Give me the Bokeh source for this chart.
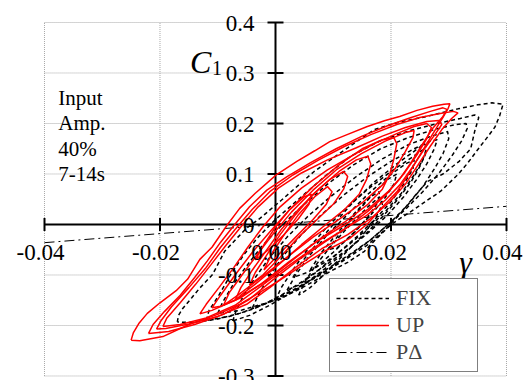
from bokeh.plotting import figure
from bokeh.models import Label, Range1d
from bokeh.embed import file_html
from bokeh.resources import INLINE

# ---------------- data ----------------
X_TICKS = [-0.04, -0.02, 0.0, 0.02, 0.04]
X_LABELS = ["-0.04", "-0.02", "0.00", "0.02", "0.04"]
Y_TICKS = [-0.3, -0.2, -0.1, 0.0, 0.1, 0.2, 0.3, 0.4]
Y_LABELS = ["-0.3", "-0.2", "-0.1", "0", "0.1", "0.2", "0.3", "0.4"]

PD_GAMMA = [-0.04, 0.04]
PD_C1 = [-0.036, 0.036]

UP_LOOP_1 = [(-0.0250, -0.229), (-0.0246, -0.214), (-0.0236, -0.195), (-0.0222, -0.176), (-0.0200, -0.155),
             (-0.0172, -0.131), (-0.0152, -0.108), (-0.0131, -0.069), (-0.0110, -0.045), (-0.0083, 0.000),
             (-0.0062, 0.032), (-0.0035, 0.062), (-0.0012, 0.085), (0.0002, 0.099), (0.0037, 0.125),
             (0.0068, 0.146), (0.0094, 0.164), (0.0124, 0.178), (0.0159, 0.194), (0.0190, 0.206),
             (0.0215, 0.214), (0.0245, 0.226), (0.0272, 0.234), (0.0292, 0.238), (0.0302, 0.239),
             (0.0299, 0.230), (0.0290, 0.212), (0.0278, 0.190), (0.0262, 0.160), (0.0245, 0.128),
             (0.0228, 0.095), (0.0211, 0.066), (0.0188, 0.038), (0.0160, 0.002), (0.0128, -0.028),
             (0.0085, -0.053), (0.0045, -0.082), (0.0005, -0.112), (-0.0035, -0.140), (-0.0065, -0.160),
             (-0.0100, -0.178), (-0.0150, -0.198), (-0.0195, -0.222), (-0.0235, -0.230), (-0.0250, -0.229)]
UP_LOOP_2 = [(-0.0206, -0.207), (-0.0198, -0.190), (-0.0180, -0.163), (-0.0150, -0.125), (-0.0120, -0.085),
             (-0.0095, -0.045), (-0.0070, -0.010), (-0.0040, 0.030), (-0.0010, 0.065), (0.0030, 0.098),
             (0.0075, 0.128), (0.0120, 0.155), (0.0165, 0.178), (0.0210, 0.198), (0.0250, 0.212),
             (0.0285, 0.220), (0.0308, 0.224), (0.0316, 0.221), (0.0305, 0.210), (0.0288, 0.188),
             (0.0268, 0.155), (0.0248, 0.120), (0.0225, 0.080), (0.0198, 0.045), (0.0165, 0.012),
             (0.0125, -0.020), (0.0080, -0.048), (0.0035, -0.085), (-0.0010, -0.125), (-0.0050, -0.158),
             (-0.0100, -0.182), (-0.0150, -0.197), (-0.0190, -0.206), (-0.0206, -0.207)]
UP_LOOP_3 = [(-0.0195, -0.202), (-0.0188, -0.185), (-0.0165, -0.155), (-0.0138, -0.118), (-0.0112, -0.080),
             (-0.0085, -0.040), (-0.0058, -0.002), (-0.0030, 0.035), (0.0005, 0.072), (0.0045, 0.102),
             (0.0090, 0.128), (0.0140, 0.152), (0.0185, 0.175), (0.0225, 0.192), (0.0262, 0.204),
             (0.0283, 0.206), (0.0288, 0.198), (0.0276, 0.178), (0.0258, 0.150), (0.0238, 0.115),
             (0.0215, 0.078), (0.0190, 0.048), (0.0158, 0.018), (0.0115, -0.012), (0.0068, -0.045),
             (0.0022, -0.082), (-0.0025, -0.122), (-0.0070, -0.160), (-0.0120, -0.185), (-0.0165, -0.198),
             (-0.0195, -0.202)]
UP_LOOP_4 = [(-0.0131, -0.177), (-0.0120, -0.158), (-0.0098, -0.125), (-0.0072, -0.085), (-0.0048, -0.045),
             (-0.0022, -0.005), (0.0008, 0.035), (0.0045, 0.072), (0.0090, 0.108), (0.0135, 0.138),
             (0.0175, 0.162), (0.0210, 0.180), (0.0240, 0.194), (0.0262, 0.200), (0.0270, 0.192),
             (0.0262, 0.170), (0.0245, 0.138), (0.0222, 0.100), (0.0195, 0.065), (0.0160, 0.030),
             (0.0118, -0.002), (0.0070, -0.035), (0.0022, -0.075), (-0.0025, -0.118), (-0.0070, -0.150),
             (-0.0110, -0.170), (-0.0131, -0.177)]
UP_LOOP_5 = [(-0.0110, -0.165), (-0.0095, -0.140), (-0.0070, -0.100), (-0.0040, -0.055), (-0.0010, -0.015),
             (0.0025, 0.030), (0.0065, 0.075), (0.0110, 0.118), (0.0150, 0.150), (0.0185, 0.168),
             (0.0205, 0.172), (0.0210, 0.160), (0.0205, 0.130), (0.0198, 0.100), (0.0185, 0.070),
             (0.0160, 0.040), (0.0120, 0.005), (0.0075, -0.030), (0.0030, -0.070), (-0.0015, -0.110),
             (-0.0060, -0.145), (-0.0095, -0.162), (-0.0110, -0.165)]
UP_LOOP_6 = [(-0.0070, -0.150), (-0.0060, -0.125), (-0.0040, -0.090), (-0.0015, -0.050), (0.0010, -0.010),
             (0.0040, 0.030), (0.0075, 0.070), (0.0110, 0.105), (0.0140, 0.128), (0.0160, 0.135),
             (0.0165, 0.120), (0.0158, 0.090), (0.0145, 0.060), (0.0120, 0.030), (0.0085, -0.002),
             (0.0045, -0.040), (0.0005, -0.080), (-0.0035, -0.118), (-0.0060, -0.140), (-0.0070, -0.150)]
UP_LOOP_7 = [(-0.0045, -0.120), (-0.0035, -0.095), (-0.0015, -0.060), (0.0008, -0.020), (0.0035, 0.020),
             (0.0065, 0.060), (0.0095, 0.090), (0.0118, 0.105), (0.0125, 0.095), (0.0118, 0.070),
             (0.0100, 0.040), (0.0072, 0.010), (0.0040, -0.025), (0.0008, -0.065), (-0.0022, -0.100),
             (-0.0045, -0.120)]
UP_LOOP_8 = [(-0.0020, -0.090), (-0.0005, -0.055), (0.0015, -0.020), (0.0040, 0.020), (0.0068, 0.055),
             (0.0090, 0.075), (0.0098, 0.065), (0.0088, 0.040), (0.0065, 0.010), (0.0035, -0.025),
             (0.0005, -0.060), (-0.0020, -0.090)]
UP_LOOP_9 = [(-0.0220, -0.216), (-0.0212, -0.198), (-0.0192, -0.172), (-0.0165, -0.140), (-0.0140, -0.105),
             (-0.0118, -0.072), (-0.0095, -0.035), (-0.0072, -0.002), (-0.0045, 0.035), (-0.0015, 0.068),
             (0.0020, 0.095), (0.0060, 0.122), (0.0105, 0.150), (0.0150, 0.175), (0.0195, 0.196),
             (0.0235, 0.212), (0.0268, 0.224), (0.0290, 0.231), (0.0297, 0.228), (0.0290, 0.214),
             (0.0272, 0.190), (0.0255, 0.160), (0.0236, 0.125), (0.0215, 0.090), (0.0192, 0.060),
             (0.0162, 0.028), (0.0125, -0.005), (0.0085, -0.035), (0.0040, -0.070), (-0.0005, -0.110),
             (-0.0045, -0.148), (-0.0090, -0.178), (-0.0140, -0.198), (-0.0185, -0.212), (-0.0220, -0.216)]
UP_LOOP_10 = [(-0.0090, -0.160), (-0.0080, -0.135), (-0.0058, -0.100), (-0.0032, -0.060), (-0.0005, -0.020),
              (0.0028, 0.025), (0.0065, 0.068), (0.0105, 0.108), (0.0148, 0.140), (0.0190, 0.165),
              (0.0225, 0.182), (0.0240, 0.186), (0.0238, 0.172), (0.0225, 0.145), (0.0208, 0.112),
              (0.0185, 0.078), (0.0152, 0.045), (0.0110, 0.010), (0.0065, -0.025), (0.0020, -0.065),
              (-0.0025, -0.105), (-0.0065, -0.140), (-0.0090, -0.160)]
UP_LOOP_11 = [(-0.0035, -0.070), (-0.0020, -0.040), (0.0000, -0.005), (0.0025, 0.030), (0.0050, 0.055),
              (0.0062, 0.060), (0.0058, 0.040), (0.0040, 0.012), (0.0015, -0.020), (-0.0012, -0.050),
              (-0.0035, -0.070)]

FIX_LOOP_1 = [(-0.0170, -0.193), (-0.0168, -0.180), (-0.0161, -0.167), (-0.0145, -0.145), (-0.0132, -0.127),
              (-0.0109, -0.099), (-0.0088, -0.053), (-0.0065, -0.025), (-0.0050, -0.007), (-0.0027, 0.012),
              (0.0010, 0.048), (0.0040, 0.078), (0.0067, 0.105), (0.0110, 0.140), (0.0171, 0.188),
              (0.0215, 0.203), (0.0258, 0.213), (0.0316, 0.229), (0.0350, 0.237), (0.0375, 0.241),
              (0.0394, 0.238), (0.0388, 0.215), (0.0380, 0.193), (0.0365, 0.170), (0.0350, 0.148),
              (0.0333, 0.122), (0.0316, 0.099), (0.0286, 0.066), (0.0240, 0.030), (0.0200, 0.000),
              (0.0175, -0.028), (0.0154, -0.053), (0.0125, -0.075), (0.0096, -0.092), (0.0067, -0.112),
              (0.0038, -0.130), (0.0010, -0.145), (-0.0020, -0.158), (-0.0062, -0.176), (-0.0100, -0.187),
              (-0.0123, -0.191), (-0.0150, -0.194), (-0.0170, -0.193)]
FIX_LOOP_2 = [(-0.0120, -0.190), (-0.0115, -0.170), (-0.0098, -0.140), (-0.0078, -0.100), (-0.0055, -0.060),
              (-0.0030, -0.025), (0.0000, 0.010), (0.0040, 0.050), (0.0085, 0.095), (0.0130, 0.135),
              (0.0180, 0.165), (0.0230, 0.185), (0.0280, 0.200), (0.0320, 0.210), (0.0345, 0.217),
              (0.0352, 0.212), (0.0345, 0.185), (0.0338, 0.150), (0.0318, 0.125), (0.0290, 0.100),
              (0.0263, 0.085), (0.0240, 0.055), (0.0215, 0.020), (0.0190, -0.010), (0.0160, -0.040),
              (0.0120, -0.070), (0.0080, -0.098), (0.0040, -0.125), (0.0000, -0.148), (-0.0040, -0.168),
              (-0.0080, -0.182), (-0.0120, -0.190)]
FIX_LOOP_3 = [(-0.0074, -0.191), (-0.0068, -0.170), (-0.0055, -0.140), (-0.0035, -0.105), (-0.0010, -0.065),
              (0.0020, -0.025), (0.0055, 0.015), (0.0095, 0.055), (0.0140, 0.095), (0.0185, 0.130),
              (0.0230, 0.158), (0.0270, 0.175), (0.0298, 0.184), (0.0300, 0.170), (0.0290, 0.140),
              (0.0275, 0.110), (0.0255, 0.075), (0.0230, 0.040), (0.0200, 0.005), (0.0165, -0.030),
              (0.0125, -0.062), (0.0080, -0.095), (0.0035, -0.130), (-0.0010, -0.160), (-0.0045, -0.180),
              (-0.0074, -0.191)]
FIX_LOOP_4 = [(-0.0040, -0.165), (-0.0030, -0.140), (-0.0010, -0.100), (0.0015, -0.060), (0.0045, -0.020),
              (0.0080, 0.020), (0.0120, 0.060), (0.0160, 0.095), (0.0200, 0.125), (0.0240, 0.150),
              (0.0268, 0.165), (0.0280, 0.168), (0.0275, 0.150), (0.0262, 0.120), (0.0245, 0.090),
              (0.0222, 0.055), (0.0195, 0.020), (0.0165, -0.012), (0.0130, -0.045), (0.0090, -0.078),
              (0.0050, -0.110), (0.0010, -0.140), (-0.0020, -0.158), (-0.0040, -0.165)]
FIX_LOOP_5 = [(0.0000, -0.150), (0.0010, -0.125), (0.0030, -0.090), (0.0055, -0.050), (0.0085, -0.010),
              (0.0120, 0.030), (0.0160, 0.070), (0.0200, 0.105), (0.0235, 0.132), (0.0255, 0.148),
              (0.0260, 0.140), (0.0250, 0.115), (0.0235, 0.085), (0.0212, 0.050), (0.0185, 0.015),
              (0.0155, -0.020), (0.0120, -0.055), (0.0085, -0.088), (0.0050, -0.118), (0.0020, -0.140),
              (0.0000, -0.150)]
FIX_LOOP_6 = [(0.0020, -0.130), (0.0035, -0.100), (0.0060, -0.060), (0.0090, -0.020), (0.0125, 0.020),
              (0.0160, 0.060), (0.0195, 0.095), (0.0225, 0.120), (0.0240, 0.128), (0.0238, 0.110),
              (0.0222, 0.080), (0.0200, 0.045), (0.0172, 0.010), (0.0140, -0.025), (0.0105, -0.060),
              (0.0070, -0.095), (0.0040, -0.120), (0.0020, -0.130)]
FIX_LOOP_7 = [(0.0060, -0.090), (0.0080, -0.055), (0.0105, -0.020), (0.0135, 0.020), (0.0168, 0.060),
              (0.0195, 0.090), (0.0210, 0.100), (0.0205, 0.080), (0.0188, 0.050), (0.0162, 0.015),
              (0.0132, -0.020), (0.0100, -0.055), (0.0075, -0.080), (0.0060, -0.090)]
FIX_LOOP_8 = [(0.0090, -0.050), (0.0110, -0.020), (0.0138, 0.020), (0.0165, 0.055), (0.0180, 0.065),
              (0.0178, 0.045), (0.0160, 0.015), (0.0135, -0.018), (0.0108, -0.045), (0.0090, -0.050)]
FIX_LOOP_9 = [(-0.0100, -0.176), (-0.0092, -0.155), (-0.0075, -0.122), (-0.0052, -0.085), (-0.0025, -0.045),
              (0.0008, -0.005), (0.0045, 0.035), (0.0090, 0.080), (0.0135, 0.118), (0.0182, 0.150),
              (0.0230, 0.172), (0.0275, 0.188), (0.0312, 0.198), (0.0330, 0.200), (0.0332, 0.190),
              (0.0322, 0.165), (0.0305, 0.135), (0.0282, 0.100), (0.0255, 0.065), (0.0225, 0.030),
              (0.0195, 0.000), (0.0160, -0.035), (0.0120, -0.068), (0.0075, -0.100), (0.0030, -0.130),
              (-0.0015, -0.155), (-0.0060, -0.170), (-0.0100, -0.176)]
FIX_LOOP_10 = [(0.0030, -0.105), (0.0045, -0.075), (0.0070, -0.040), (0.0100, 0.000), (0.0135, 0.045),
               (0.0172, 0.085), (0.0210, 0.120), (0.0240, 0.145), (0.0258, 0.160), (0.0262, 0.152),
               (0.0255, 0.128), (0.0240, 0.098), (0.0218, 0.062), (0.0192, 0.028), (0.0160, -0.008),
               (0.0125, -0.042), (0.0090, -0.072), (0.0055, -0.095), (0.0030, -0.105)]
FIX_LOOP_11 = [(0.0040, -0.140), (0.0050, -0.115), (0.0070, -0.080), (0.0098, -0.040), (0.0130, 0.000),
               (0.0160, 0.035), (0.0180, 0.055), (0.0185, 0.040), (0.0172, 0.010), (0.0148, -0.025),
               (0.0118, -0.060), (0.0088, -0.095), (0.0060, -0.125), (0.0040, -0.140)]

UP_LOOPS = [UP_LOOP_1, UP_LOOP_2, UP_LOOP_3, UP_LOOP_4, UP_LOOP_5, UP_LOOP_6, UP_LOOP_7, UP_LOOP_8,
            UP_LOOP_9, UP_LOOP_10, UP_LOOP_11]
FIX_LOOPS = [FIX_LOOP_1, FIX_LOOP_2, FIX_LOOP_3, FIX_LOOP_4, FIX_LOOP_5, FIX_LOOP_6, FIX_LOOP_7, FIX_LOOP_8,
             FIX_LOOP_9, FIX_LOOP_10, FIX_LOOP_11]

FONT = "Liberation Serif"

# ---------------- figure (frame covers the whole canvas so labels are never clipped) ----------------
p = figure(width=529, height=380,
           x_range=Range1d(-0.047619, 0.043983), y_range=Range1d(-0.308911, 0.443564),
           output_backend="svg", toolbar_location=None,
           x_axis_location=None, y_axis_location=None,
           min_border=0, outline_line_color=None,
           background_fill_color="white", border_fill_color="white")
p.grid.visible = False

# dotted grid limited to the tick extent
n_x, n_y = len(X_TICKS), len(Y_TICKS)
p.segment(x0=X_TICKS, y0=[Y_TICKS[0]] * n_x, x1=X_TICKS, y1=[Y_TICKS[-1]] * n_x,
          line_color="#a8a8a8", line_width=1, line_dash="1 1")
p.segment(x0=[X_TICKS[0]] * n_y, y0=Y_TICKS, x1=[X_TICKS[-1]] * n_y, y1=Y_TICKS,
          line_color="#a8a8a8", line_width=1, line_dash="1 1")

# tick labels at the tick values
for t, s in zip(X_TICKS, X_LABELS):
    p.add_layout(Label(x=t, y=0, text=s, x_offset=-4, y_offset=-28, text_align="center",
                       text_baseline="middle", text_font=FONT, text_font_size="23px",
                       text_color="black"))
for t, s in zip(Y_TICKS, Y_LABELS):
    p.add_layout(Label(x=0, y=t, text=s, x_offset=-21, y_offset=-1, text_align="right",
                       text_baseline="middle", text_font=FONT, text_font_size="23px",
                       text_color="black"))

# axis lines crossing at the origin, with crossing tick marks
p.segment(x0=[X_TICKS[0], 0], y0=[0, Y_TICKS[0]], x1=[X_TICKS[-1], 0], y1=[0, Y_TICKS[-1]],
          line_color="black", line_width=2)
p.scatter(x=X_TICKS, y=[0] * n_x, marker="dash", size=13, angle=1.5708,
          line_color="black", line_width=2)
p.scatter(x=[0] * n_y, y=Y_TICKS, marker="dash", size=16,
          line_color="black", line_width=2)

# series
pd_r = p.line(PD_GAMMA, PD_C1, line_color="black", line_width=1, line_dash="10 4 2 4",
              legend_label="P\u0394")
fix_r = p.multi_line(xs=[[pt[0] for pt in L] for L in FIX_LOOPS],
                     ys=[[pt[1] for pt in L] for L in FIX_LOOPS],
                     line_color="black", line_width=1.5, line_dash="4 3", legend_label="FIX")
up_r = p.multi_line(xs=[[pt[0] for pt in L] for L in UP_LOOPS],
                    ys=[[pt[1] for pt in L] for L in UP_LOOPS],
                    line_color="red", line_width=1.5, legend_label="UP")

leg = p.legend[0]
items = {it.label["value"]: it for it in leg.items}
leg.items = [items["FIX"], items["UP"], items["P\u0394"]]
leg.location = (329, 8)
leg.padding = 6
leg.spacing = 1
leg.margin = 0
leg.glyph_width = 53
leg.glyph_height = 22
leg.label_standoff = 7
leg.label_width = 75
leg.label_text_font = FONT
leg.label_text_font_size = "22px"
leg.border_line_color = "black"
leg.border_line_width = 1.5
leg.background_fill_color = "white"
leg.background_fill_alpha = 1.0

# annotations
for txt, yy in (("Input", 0.25), ("Amp.", 0.20), ("40%", 0.15), ("7-14s", 0.10)):
    p.add_layout(Label(x=-0.0376, y=yy, text=txt, text_baseline="middle", text_align="left",
                       text_font=FONT, text_font_size="21px", text_color="black"))
p.add_layout(Label(x=-0.0148, y=0.321, text="C", text_font=FONT, text_font_style="italic",
                   text_font_size="32px", text_baseline="alphabetic", text_color="black"))
p.add_layout(Label(x=-0.0110, y=0.309, text="1", text_font=FONT,
                   text_font_size="20px", text_baseline="alphabetic", text_color="black"))
p.add_layout(Label(x=0.0318, y=-0.074, text="\u03b3", text_font=FONT, text_font_style="italic",
                   text_font_size="32px", text_baseline="alphabetic", text_color="black"))

open("out.html", "w").write(file_html(p, INLINE))
